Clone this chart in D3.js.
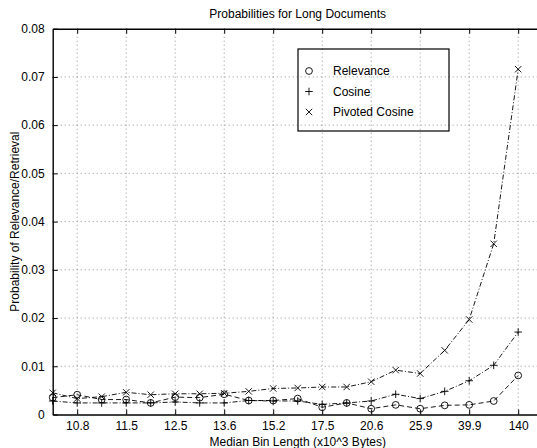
<!DOCTYPE html>
<html>
<head>
<meta charset="utf-8">
<script src="https://cdn.jsdelivr.net/npm/d3@7"></script>
<style>
  body { margin: 0; background: #fff; }
  text { font-family: "Liberation Sans", Arial, sans-serif; fill: #000; }
</style>
</head>
<body>
<div id="chart"></div>
<script>
// bins 1..20, only every other one is labelled on the axis
var binIndex = d3.range(1, 21);
var tickBins = [2, 4, 6, 8, 10, 12, 14, 16, 18, 20];
var tickLabels = ["10.8", "11.5", "12.5", "13.6", "15.2", "17.5", "20.6", "25.9", "39.9", "140"];
var yTicks = [0, 0.01, 0.02, 0.03, 0.04, 0.05, 0.06, 0.07, 0.08];

var relevance = [0.0035, 0.0041, 0.0031, 0.0031, 0.0024, 0.0036, 0.0035, 0.0042, 0.0029, 0.0029,
                 0.0033, 0.0015, 0.0024, 0.0012, 0.0020, 0.0012, 0.0019, 0.0020, 0.0028, 0.0081];
var cosine = [0.0028, 0.0024, 0.0024, 0.0024, 0.0024, 0.0026, 0.0024, 0.0024, 0.0029, 0.0028,
              0.0028, 0.0021, 0.0024, 0.0028, 0.0042, 0.0033, 0.0048, 0.0070, 0.0102, 0.0171];
var pivoted = [0.0045, 0.0033, 0.0037, 0.0046, 0.0041, 0.0043, 0.0043, 0.0044, 0.0048, 0.0054,
               0.0055, 0.0057, 0.0057, 0.0068, 0.0092, 0.0085, 0.0133, 0.0197, 0.0354, 0.0716];

var series = [
  {name: "Relevance", values: relevance, marker: "circle", dash: "5,3"},
  {name: "Cosine", values: cosine, marker: "plus", dash: "5,2,1,2"},
  {name: "Pivoted Cosine", values: pivoted, marker: "cross", dash: "5,2,1,2"}
];

var W = 537, H = 448;
var pLeft = 52.7, pTop = 28.7, pBottom = 414.5, pRight = 542.7;

var svg = d3.select("#chart").append("svg")
  .attr("width", W)
  .attr("height", H);

var x = d3.scaleLinear().domain([1, 21]).range([pLeft, pRight]);
var y = d3.scaleLinear().domain([0, 0.08]).range([pBottom, pTop]);

// grid
var grid = svg.append("g")
  .attr("stroke", "#777")
  .attr("stroke-width", 0.8)
  .attr("stroke-dasharray", "1,3");
grid.selectAll(".vg").data(tickBins).enter().append("line")
  .attr("x1", function(d) { return x(d); })
  .attr("x2", function(d) { return x(d); })
  .attr("y1", pTop)
  .attr("y2", pBottom);
grid.selectAll(".hg").data(yTicks.slice(1, -1)).enter().append("line")
  .attr("x1", pLeft)
  .attr("x2", pRight)
  .attr("y1", function(d) { return y(d); })
  .attr("y2", function(d) { return y(d); });

// axes (MATLAB style, ticks inside)
var xAxis = d3.axisBottom(x)
  .tickValues(tickBins)
  .tickFormat(function(d, i) { return tickLabels[i]; })
  .tickSizeInner(-5)
  .tickSizeOuter(0)
  .tickPadding(7);
var gx = svg.append("g")
  .attr("transform", "translate(0," + pBottom + ")")
  .call(xAxis);

var xTop = d3.axisTop(x)
  .tickValues(tickBins)
  .tickFormat("")
  .tickSizeInner(-5)
  .tickSizeOuter(0);
var gxt = svg.append("g")
  .attr("transform", "translate(0," + pTop + ")")
  .call(xTop);

var yAxis = d3.axisLeft(y)
  .tickValues(yTicks)
  .tickFormat(function(d) { return d === 0 ? "0" : d3.format(".2f")(d); })
  .tickSizeInner(-5)
  .tickSizeOuter(0)
  .tickPadding(8);
var gy = svg.append("g")
  .attr("transform", "translate(" + pLeft + ",0)")
  .call(yAxis);

[gx, gxt, gy].forEach(function(g) {
  g.select(".domain").attr("stroke", "#000").attr("stroke-width", 1.4);
  g.selectAll(".tick line").attr("stroke", "#000").attr("stroke-width", 1);
  g.selectAll(".tick text")
    .attr("font-family", "Liberation Sans, Arial, sans-serif")
    .attr("font-size", 12)
    .attr("fill", "#000");
});

// lines
var line = d3.line()
  .x(function(d, i) { return x(binIndex[i]); })
  .y(function(d) { return y(d); });

svg.selectAll(".series").data(series).enter().append("path")
  .attr("d", function(s) { return line(s.values); })
  .attr("fill", "none")
  .attr("stroke", "#000")
  .attr("stroke-width", 0.9)
  .attr("stroke-dasharray", function(s) { return s.dash; });

function drawMarker(g, kind, cx, cy) {
  if (kind === "circle") {
    g.append("circle").attr("cx", cx).attr("cy", cy).attr("r", 3.4)
      .attr("fill", "none").attr("stroke", "#000").attr("stroke-width", 0.9);
  } else if (kind === "plus") {
    g.append("path")
      .attr("d", "M" + (cx - 3.8) + "," + cy + "H" + (cx + 3.8) +
                 "M" + cx + "," + (cy - 3.8) + "V" + (cy + 3.8))
      .attr("stroke", "#000").attr("stroke-width", 0.9);
  } else {
    g.append("path")
      .attr("d", "M" + (cx - 3.2) + "," + (cy - 3.2) + "L" + (cx + 3.2) + "," + (cy + 3.2) +
                 "M" + (cx - 3.2) + "," + (cy + 3.2) + "L" + (cx + 3.2) + "," + (cy - 3.2))
      .attr("stroke", "#000").attr("stroke-width", 0.9);
  }
}

var marks = svg.append("g");
series.forEach(function(s) {
  s.values.forEach(function(v, i) {
    drawMarker(marks, s.marker, x(binIndex[i]), y(v));
  });
});

// legend
var lg = svg.append("g");
lg.append("rect")
  .attr("x", 298).attr("y", 49)
  .attr("width", 151).attr("height", 82)
  .attr("fill", "none")
  .attr("stroke", "#000")
  .attr("stroke-width", 1.2);
series.forEach(function(s, i) {
  var yy = 71 + i * 20.5;
  drawMarker(lg, s.marker, 309, yy);
  lg.append("text")
    .attr("x", 333).attr("y", yy + 4.3)
    .attr("font-size", 12)
    .text(s.name);
});

// titles
svg.append("text")
  .attr("x", 297.7).attr("y", 18)
  .attr("text-anchor", "middle")
  .attr("font-size", 12)
  .text("Probabilities for Long Documents");

svg.append("text")
  .attr("x", 297.7).attr("y", 445.5)
  .attr("text-anchor", "middle")
  .attr("font-size", 12)
  .text("Median Bin Length (x10^3 Bytes)");

svg.append("text")
  .attr("transform", "translate(19," + ((pTop + pBottom) / 2) + ") rotate(-90)")
  .attr("text-anchor", "middle")
  .attr("font-size", 12)
  .text("Probability of Relevance/Retrieval");
</script>
</body>
</html>
